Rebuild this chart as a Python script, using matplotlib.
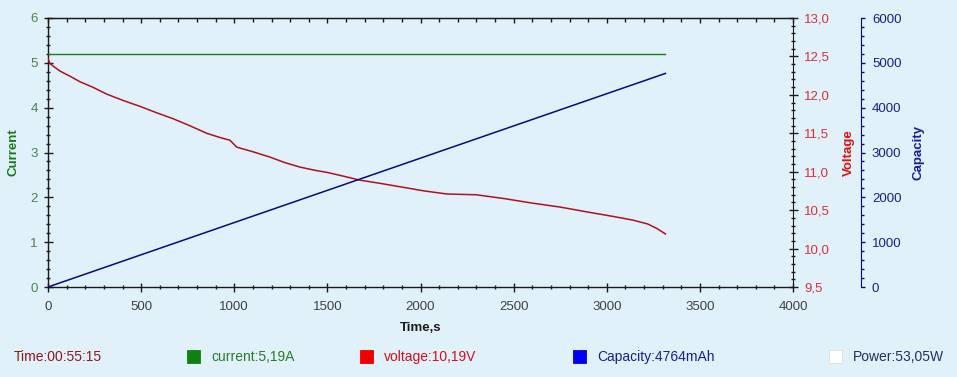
import matplotlib
matplotlib.use("Agg")
import matplotlib.pyplot as plt
from matplotlib.ticker import MultipleLocator, FuncFormatter, NullFormatter

# ---- data ----
time_s = [0, 10, 30, 64, 120, 172, 240, 315, 400, 494, 580, 671, 760, 852, 930, 977,
          1013, 1100, 1192, 1270, 1353, 1430, 1500, 1590, 1675, 1780, 1900, 2020, 2142,
          2300, 2450, 2604, 2750, 2910, 3030, 3141, 3220, 3270, 3315]
voltage = [12.47, 12.41, 12.37, 12.31, 12.24, 12.17, 12.10, 12.01, 11.93, 11.85, 11.77,
           11.69, 11.60, 11.50, 11.44, 11.41, 11.32, 11.26, 11.19, 11.12, 11.06, 11.02,
           10.99, 10.94, 10.89, 10.85, 10.80, 10.75, 10.71, 10.70, 10.65, 10.59, 10.54,
           10.47, 10.42, 10.37, 10.32, 10.26, 10.19]
cur_time = [0, 3315]
current = [5.19, 5.19]
cap_time = [0, 3315]
capacity = [0, 4764]

legend_labels = ["Time:00:55:15", "current:5,19A", "voltage:10,19V",
                 "Capacity:4764mAh", "Power:53,05W"]

# ---- style ----
BG = "#e1f1f9"
plt.rcParams['font.family'] = ['Liberation Sans', 'DejaVu Sans']

fig = plt.figure(figsize=(9.57, 3.77), dpi=100, facecolor=BG)
W, H = 957, 377
ax = fig.add_axes([48 / W, 1 - 287 / H, (793 - 48) / W, (287 - 18) / H])
ax.set_facecolor(BG)

ax_v = ax.twinx()
ax_c = ax.twinx()
for a in (ax_v, ax_c):
    a.patch.set_visible(False)

ax.plot(cur_time, current, color="#1f7a1f", lw=1.0, zorder=3)
ax_v.plot(time_s, voltage, color="#b01020", lw=1.1, zorder=3)
ax_c.plot(cap_time, capacity, color="#0a0a80", lw=1.1, zorder=3)

ax.set_xlim(0, 4000)
ax.set_ylim(0, 6)
ax_v.set_ylim(9.5, 13.0)
ax_c.set_ylim(0, 6000)

# spines
for s in ax.spines.values():
    s.set_color("#1a1a1a")
    s.set_linewidth(1.0)
for name in ("left", "bottom", "top"):
    ax_v.spines[name].set_visible(False)
    ax_c.spines[name].set_visible(False)
ax_v.spines["right"].set_color("#1a1a1a")
ax_c.spines["right"].set_position(("axes", (861 - 48) / 745))
ax_c.spines["right"].set_color("#0a0a80")
ax.spines["right"].set_visible(False)

px = 72 / 100.0
# x axis (bottom, crossing ticks)
ax.xaxis.set_major_locator(MultipleLocator(500))
ax.xaxis.set_minor_locator(MultipleLocator(100))
ax.tick_params(axis="x", which="major", direction="inout", length=9 * px, width=1,
               colors="#1a1a1a", labelcolor="#404040", labelsize=9.5, pad=7,
               top=False, bottom=True)
ax.tick_params(axis="x", which="minor", direction="inout", length=5 * px, width=1,
               colors="#1a1a1a", top=False, bottom=True)
# top ticks pointing inward
sec = ax.secondary_xaxis("top")
sec.xaxis.set_major_locator(MultipleLocator(500))
sec.xaxis.set_minor_locator(MultipleLocator(100))
sec.xaxis.set_major_formatter(NullFormatter())
sec.spines["top"].set_color("#1a1a1a")
sec.tick_params(axis="x", which="major", direction="in", length=5 * px, width=1,
                colors="#1a1a1a")
sec.tick_params(axis="x", which="minor", direction="in", length=3.5 * px, width=1,
                colors="#1a1a1a")

ax.yaxis.set_major_locator(MultipleLocator(1))
ax.yaxis.set_minor_locator(MultipleLocator(0.2))
ax.tick_params(axis="y", which="major", direction="inout", length=9 * px, width=1,
               colors="#1a1a1a", labelcolor="#4f7f4f", labelsize=9.5, pad=4)
ax.tick_params(axis="y", which="minor", direction="inout", length=5 * px, width=1,
               colors="#1a1a1a")

ax_v.yaxis.set_major_locator(MultipleLocator(0.5))
ax_v.yaxis.set_minor_locator(MultipleLocator(0.1))
ax_v.yaxis.set_major_formatter(FuncFormatter(lambda v, p: f"{v:.1f}".replace(".", ",")))
ax_v.tick_params(axis="y", which="major", direction="inout", length=9 * px, width=1,
                 colors="#1a1a1a", labelcolor="#d8303c", labelsize=9.5, pad=5)
ax_v.tick_params(axis="y", which="minor", direction="inout", length=5 * px, width=1,
                 colors="#1a1a1a")

ax_c.yaxis.set_major_locator(MultipleLocator(1000))
ax_c.yaxis.set_minor_locator(MultipleLocator(200))
ax_c.tick_params(axis="y", which="major", direction="out", length=4 * px, width=1,
                 colors="#0a0a80", labelcolor="#1c1c8c", labelsize=9.5, pad=5)
ax_c.tick_params(axis="y", which="minor", direction="out", length=3 * px, width=1,
                 colors="#0a0a80")

ax.set_xlabel("Time,s", fontsize=9.5, fontweight="bold", color="#1a1a1a", labelpad=6)
ax.set_ylabel("Current", fontsize=9.5, fontweight="bold", color="#1a7a1a", labelpad=8)
ax_v.set_ylabel("Voltage", fontsize=9.5, fontweight="bold", color="#e01010", labelpad=9)
ax_c.set_ylabel("Capacity", fontsize=9.5, fontweight="bold", color="#1c1c9c", labelpad=8)

# ---- bottom legend ----
ly = 1 - 357 / H
entries = [
    (14, None, "#8b1a1a", legend_labels[0]),
    (211, "#108010", "#2a7a2a", legend_labels[1]),
    (384, "#ee0000", "#d01020", legend_labels[2]),
    (597, "#0000ee", "#1c1c8c", legend_labels[3]),
    (853, "#ffffff", "#2a2a6a", legend_labels[4]),
]
for x, sq, tc, label in entries:
    if sq is not None:
        fig.patches.append(plt.Rectangle(((x - 24) / W, 1 - 363 / H), 13 / W, 13 / H,
                                         transform=fig.transFigure, facecolor=sq,
                                         edgecolor="#dddddd" if sq == "#ffffff" else sq,
                                         lw=0.6))
    fig.text(x / W, ly, label, color=tc, fontsize=10, ha="left", va="center")

fig.savefig("out.png", dpi=100, facecolor=BG)
